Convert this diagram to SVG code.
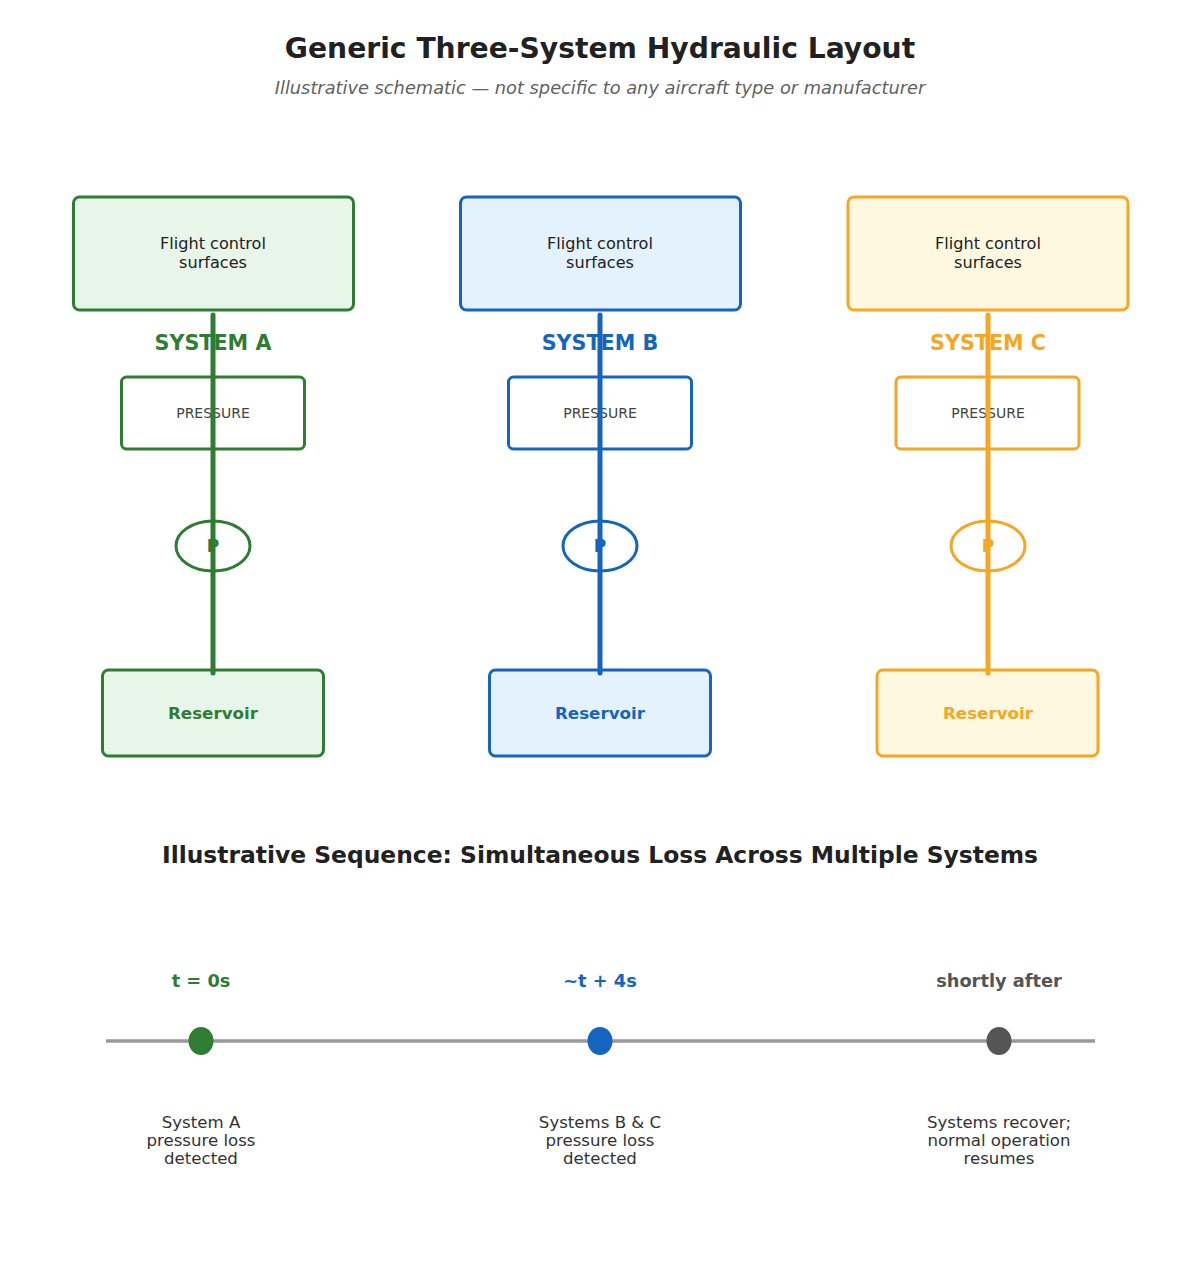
<svg xmlns="http://www.w3.org/2000/svg" width="1200" height="1267" viewBox="0 0 1200 1267">
<style>
text{font-family:"DejaVu Sans",sans-serif;text-anchor:middle}
.title{font-size:28.200px;font-weight:bold;fill:#212121}
.sub{font-size:17.800px;font-style:italic;fill:#616161}
.sec{font-size:23.400px;font-weight:bold;fill:#212121}
.lbl{font-size:16.100px;fill:#212121}
.pr{font-size:14px;fill:#424242}
.sys{font-size:20.700px;font-weight:bold}
.res{font-size:16.700px;font-weight:bold}
.pp{font-size:17px;font-weight:bold}
.box{stroke-width:3}
.a{stroke:#2e7d32}.b{stroke:#1565c0}.c{stroke:#f5a623}
.fa{fill:#2e7d32}.fb{fill:#1565c0}.fc{fill:#f5a623}
.la{fill:#e8f5e9}.lb{fill:#e3f2fd}.lc{fill:#fff8e1}
.pipe{stroke-width:5;stroke-linecap:round;fill:none}
.tl{font-size:17.800px;font-weight:bold}
.desc{font-size:16.600px;fill:#333}
</style>
<rect width="1200" height="1267" fill="#fff"/>
<text class="title" x="600" y="58">Generic Three-System Hydraulic Layout</text>
<text class="sub" x="600" y="94">Illustrative schematic — not specific to any aircraft type or manufacturer</text>

<g id="sysA">
<rect id="fcsA" class="box a la" x="73.500" y="197" width="280" height="113" rx="6"/>
<text class="lbl" x="213" y="249">Flight control</text>
<text class="lbl" x="213" y="268">surfaces</text>
<text class="sys fa" x="213" y="350">SYSTEM A</text>
<rect id="presA" class="box a" fill="#fff" x="121.500" y="377" width="183" height="72" rx="5"/>
<text class="pr" x="213" y="418">PRESSURE</text>
<ellipse id="pumpA" class="box a" fill="#fff" cx="213" cy="546" rx="37" ry="25"/>
<text class="pp fa" x="213" y="552">P</text>
<rect id="resA" class="box a la" x="102.500" y="670" width="221" height="86" rx="6"/>
<text class="res fa" x="213" y="719">Reservoir</text>
</g>

<g id="sysB">
<rect id="fcsB" class="box b lb" x="460.500" y="197" width="280" height="113" rx="6"/>
<text class="lbl" x="600" y="249">Flight control</text>
<text class="lbl" x="600" y="268">surfaces</text>
<text class="sys fb" x="600" y="350">SYSTEM B</text>
<rect id="presB" class="box b" fill="#fff" x="508.500" y="377" width="183" height="72" rx="5"/>
<text class="pr" x="600" y="418">PRESSURE</text>
<ellipse id="pumpB" class="box b" fill="#fff" cx="600" cy="546" rx="37" ry="25"/>
<text class="pp fb" x="600" y="552">P</text>
<rect id="resB" class="box b lb" x="489.500" y="670" width="221" height="86" rx="6"/>
<text class="res fb" x="600" y="719">Reservoir</text>
</g>

<g id="sysC">
<rect id="fcsC" class="box c lc" x="848" y="197" width="280" height="113" rx="6"/>
<text class="lbl" x="988" y="249">Flight control</text>
<text class="lbl" x="988" y="268">surfaces</text>
<text class="sys fc" x="988" y="350">SYSTEM C</text>
<rect id="presC" class="box c" fill="#fff" x="896" y="377" width="183" height="72" rx="5"/>
<text class="pr" x="988" y="418">PRESSURE</text>
<ellipse id="pumpC" class="box c" fill="#fff" cx="988" cy="546" rx="37" ry="25"/>
<text class="pp fc" x="988" y="552">P</text>
<rect id="resC" class="box c lc" x="877" y="670" width="221" height="86" rx="6"/>
<text class="res fc" x="988" y="719">Reservoir</text>
</g>

<g id="connectors">
<line class="pipe a" x1="213" y1="315" x2="213" y2="673"/>
<line class="pipe b" x1="600" y1="315" x2="600" y2="673"/>
<line class="pipe c" x1="988" y1="315" x2="988" y2="673"/>
</g>

<text class="sec" x="600" y="863">Illustrative Sequence: Simultaneous Loss Across Multiple Systems</text>

<g id="timeline">
<line x1="106" y1="1041" x2="1095" y2="1041" stroke="#999" stroke-width="3.500"/>
</g>
<g id="ev1">
<text class="tl fa" x="201" y="987">t = 0s</text>
<ellipse cx="201" cy="1041" rx="12.500" ry="14" fill="#2e7d32"/>
<text class="desc" x="201" y="1128">System A</text>
<text class="desc" x="201" y="1146">pressure loss</text>
<text class="desc" x="201" y="1164">detected</text>
</g>
<g id="ev2">
<text class="tl fb" x="600" y="987">~t + 4s</text>
<ellipse cx="600" cy="1041" rx="12.500" ry="14" fill="#1565c0"/>
<text class="desc" x="600" y="1128">Systems B &amp; C</text>
<text class="desc" x="600" y="1146">pressure loss</text>
<text class="desc" x="600" y="1164">detected</text>
</g>
<g id="ev3">
<text class="tl" fill="#555" x="999" y="987">shortly after</text>
<ellipse cx="999" cy="1041" rx="12.500" ry="14" fill="#555"/>
<text class="desc" x="999" y="1128">Systems recover;</text>
<text class="desc" x="999" y="1146">normal operation</text>
<text class="desc" x="999" y="1164">resumes</text>
</g>
</svg>
